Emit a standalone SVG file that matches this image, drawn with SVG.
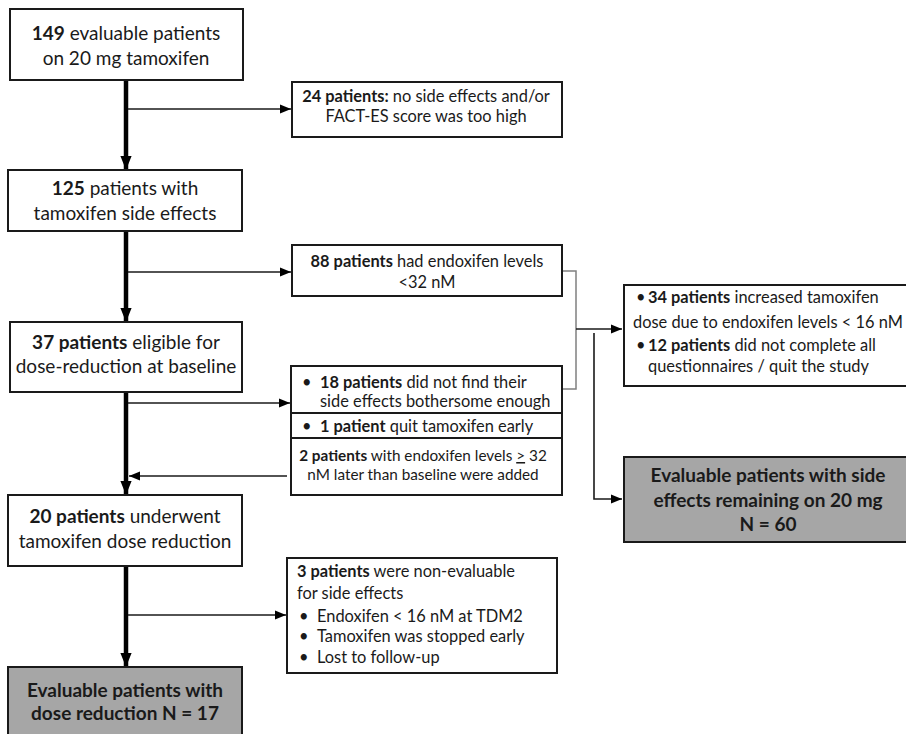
<svg xmlns="http://www.w3.org/2000/svg" width="906" height="734" viewBox="0 0 906 734">
<style>
text{font-family:Lato,"Open Sans","Liberation Sans",sans-serif;fill:#1a1a1a}
.l{font-size:19px}
.m{font-size:16.4px}
.s{font-size:15.3px}
.c{text-anchor:middle}
.b{font-weight:bold}
.box{fill:#fff;stroke:#1a1a1a;stroke-width:2}
.gbox{fill:#a6a6a6;stroke:#1a1a1a;stroke-width:2}
.thin{fill:none;stroke:#1a1a1a;stroke-width:1.6}
.thick{fill:none;stroke:#000;stroke-width:4.5}
.gray{fill:none;stroke:#808080;stroke-width:1.5}
</style>
<defs>
<marker id="ah" viewBox="0 0 10 10" refX="10" refY="5" markerWidth="11" markerHeight="11" markerUnits="userSpaceOnUse" orient="auto"><path d="M0,1 L10,5 L0,9 Z" fill="#000"/></marker>
<marker id="ahk" viewBox="0 0 10 10" refX="10" refY="5" markerWidth="14" markerHeight="14" markerUnits="userSpaceOnUse" orient="auto"><path d="M0,1 L10,5 L0,9 Z" fill="#000"/></marker>
</defs>
<rect width="906" height="734" fill="#fff"/>

<g id="connectors">
<line class="thick" x1="126" y1="80" x2="126" y2="170" marker-end="url(#ahk)"/>
<line class="thick" x1="126" y1="231" x2="126" y2="322" marker-end="url(#ahk)"/>
<line class="thick" x1="126" y1="392" x2="126" y2="495" marker-end="url(#ahk)"/>
<line class="thick" x1="126" y1="566" x2="126" y2="667" marker-end="url(#ahk)"/>
<line class="thin" x1="128" y1="109" x2="291" y2="109" marker-end="url(#ah)"/>
<line class="thin" x1="128" y1="272" x2="291" y2="272" marker-end="url(#ah)"/>
<line class="thin" x1="128" y1="403" x2="290" y2="403" marker-end="url(#ah)"/>
<line class="thin" x1="287" y1="476" x2="129" y2="476" marker-end="url(#ah)"/>
<line class="thin" x1="128" y1="615" x2="286" y2="615" marker-end="url(#ah)"/>
<polyline class="gray" points="562,271 576,271 576,389 562,389"/>
<line class="thin" x1="576" y1="329" x2="622" y2="329" marker-end="url(#ah)"/>
<polyline class="thin" points="594,333 594,499 622,499" marker-end="url(#ah)"/>
</g>

<g id="n149">
<rect class="box" x="10" y="9" width="233" height="71"/>
<text class="l c" x="126" y="40"><tspan class="b">149</tspan> evaluable patients</text>
<text class="l c" x="126" y="65">on 20 mg tamoxifen</text>
</g>

<g id="n125">
<rect class="box" x="8" y="170" width="234" height="61"/>
<text class="l c" x="125" y="195"><tspan class="b">125</tspan> patients with</text>
<text class="l c" x="125" y="220">tamoxifen side effects</text>
</g>

<g id="n37">
<rect class="box" x="10" y="322" width="232" height="70"/>
<text class="l c" x="126" y="349"><tspan class="b">37 patients</tspan> eligible for</text>
<text class="l c" x="126" y="373">dose-reduction at baseline</text>
</g>

<g id="n20">
<rect class="box" x="8" y="495" width="234" height="71"/>
<text class="l c" x="125" y="523"><tspan class="b">20 patients</tspan> underwent</text>
<text class="l c" x="125" y="548">tamoxifen dose reduction</text>
</g>

<g id="n17">
<rect class="gbox" x="8" y="667" width="234" height="80"/>
<text class="l c b" x="125" y="697">Evaluable patients with</text>
<text class="l c b" x="125" y="720">dose reduction N = 17</text>
</g>

<g id="n24">
<rect class="box" x="292" y="82" width="270" height="55"/>
<text class="m c" x="426" y="102"><tspan class="b">24 patients:</tspan> no side effects and/or</text>
<text class="m c" x="426" y="122">FACT-ES score was too high</text>
</g>

<g id="n88">
<rect class="box" x="292" y="245" width="270" height="51"/>
<text class="m c" x="427" y="267"><tspan class="b">88 patients</tspan> had endoxifen levels</text>
<text class="m c" x="427" y="288">&lt;32 nM</text>
</g>

<g id="n18">
<rect class="box" x="291" y="366" width="271" height="129"/>
<line class="thin" x1="291" y1="413" x2="562" y2="413" style="stroke-width:2"/>
<line class="thin" x1="291" y1="438" x2="562" y2="438" style="stroke-width:2"/>
<text class="m" x="302" y="388">•</text>
<text class="m" x="320" y="388"><tspan class="b">18 patients</tspan> did not find their</text>
<text class="m" x="320" y="407">side effects bothersome enough</text>
<text class="m" x="302" y="432">•</text>
<text class="m" x="320" y="432"><tspan class="b">1 patient</tspan> quit tamoxifen early</text>
<text class="s c" x="423" y="461"><tspan class="b">2 patients</tspan> with endoxifen levels <tspan text-decoration="underline">&gt;</tspan> 32</text>
<text class="s c" x="423" y="480">nM later than baseline were added</text>
</g>

<g id="n34">
<rect class="box" x="624" y="285" width="285" height="101"/>
<text class="m" x="636" y="303">•</text>
<text class="m" x="648" y="303"><tspan class="b">34 patients</tspan> increased tamoxifen</text>
<text class="m" x="633" y="328">dose due to endoxifen levels &lt; 16 nM</text>
<text class="m" x="636" y="351">•</text>
<text class="m" x="648" y="351"><tspan class="b">12 patients</tspan> did not complete all</text>
<text class="m" x="648" y="372">questionnaires / quit the study</text>
</g>

<g id="n60">
<rect class="gbox" x="624" y="457" width="285" height="85"/>
<text class="l c b" x="768" y="482">Evaluable patients with side</text>
<text class="l c b" x="768" y="507">effects remaining on 20 mg</text>
<text class="l c b" x="768" y="531">N = 60</text>
</g>

<g id="n3">
<rect class="box" x="287" y="558" width="270" height="115"/>
<text class="m" x="297" y="577"><tspan class="b">3 patients</tspan> were non-evaluable</text>
<text class="m" x="297" y="599">for side effects</text>
<text class="m" x="299" y="622">•</text>
<text class="m" x="317" y="622">Endoxifen &lt; 16 nM at TDM2</text>
<text class="m" x="299" y="642">•</text>
<text class="m" x="317" y="642">Tamoxifen was stopped early</text>
<text class="m" x="299" y="663">•</text>
<text class="m" x="317" y="663">Lost to follow-up</text>
</g>
</svg>
